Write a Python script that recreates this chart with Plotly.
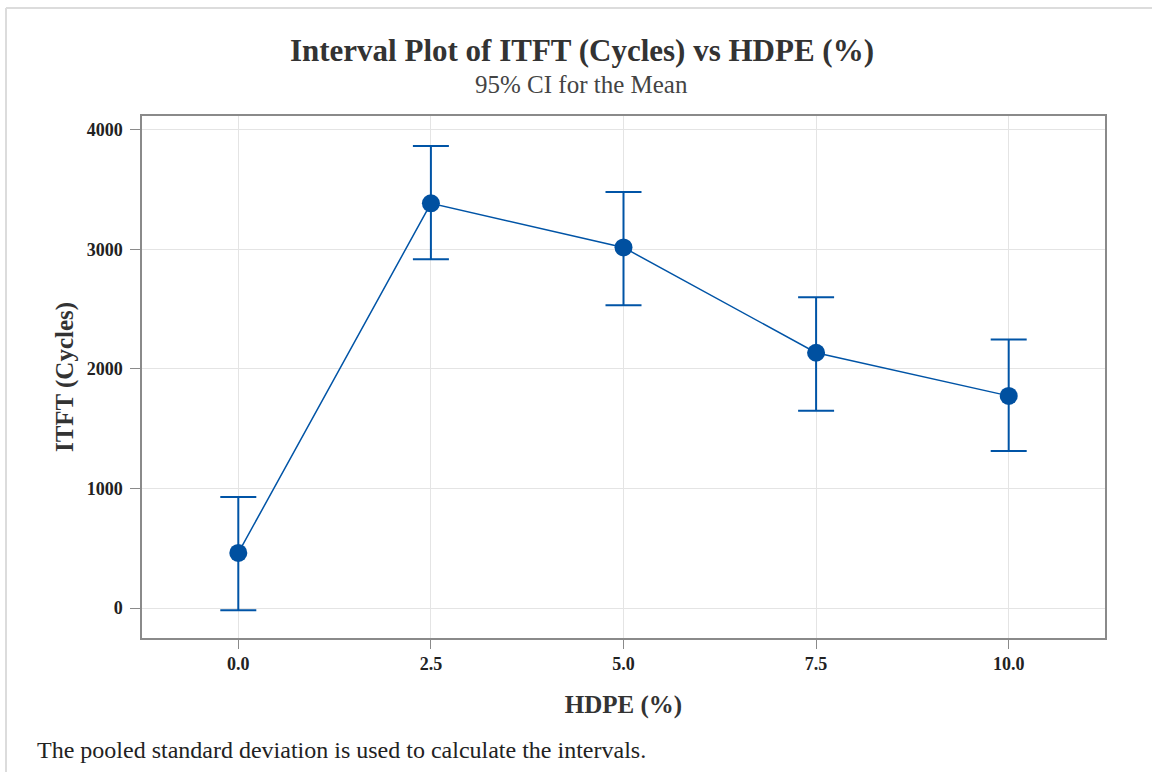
import plotly.graph_objects as go

# HDPE content and ITFT interval data (mean with 95% CI bounds)
hdpe = [0.0, 2.5, 5.0, 7.5, 10.0]
itft_mean = [461, 3386, 3017, 2136, 1775]
ci_lower = [-19, 2919, 2533, 1650, 1314]
ci_upper = [928, 3867, 3481, 2600, 2247]

x_ticks = [0.0, 2.5, 5.0, 7.5, 10.0]
x_tick_text = ["0.0", "2.5", "5.0", "7.5", "10.0"]
y_ticks = [0, 1000, 2000, 3000, 4000]

err_plus = [u - m for u, m in zip(ci_upper, itft_mean)]
err_minus = [m - l for m, l in zip(itft_mean, ci_lower)]

W, H = 1152, 772
ML, MR, MT, MB = 142, 47, 116, 134
PW, PH = W - ML - MR, H - MT - MB


def px_x(px):
    return (px - ML) / PW


def px_y(py):
    return (H - MB - py) / PH


SERIF = "Liberation Serif, Times New Roman, serif"
BLUE = "#0054a6"

fig = go.Figure()
fig.add_trace(go.Scatter(
    x=hdpe, y=itft_mean,
    mode="lines+markers",
    line=dict(color=BLUE, width=1.5),
    marker=dict(color="#0050a0", size=18),
    error_y=dict(type="data", symmetric=False, array=err_plus, arrayminus=err_minus,
                 color=BLUE, thickness=2, width=18),
    showlegend=False,
    hoverinfo="x+y",
))

fig.update_layout(
    width=W, height=H,
    margin=dict(l=ML, r=MR, t=MT, b=MB),
    paper_bgcolor="white", plot_bgcolor="white",
    font=dict(family=SERIF, color="#222222"),
    title=dict(text="<b>Interval Plot of ITFT (Cycles) vs HDPE (%)</b>",
               xref="container", yref="container",
               x=582 / W, y=1 - 50 / H, xanchor="center", yanchor="middle",
               font=dict(family=SERIF, size=31, color="#333333")),
    xaxis=dict(
        range=[-1.25, 11.25], tickvals=x_ticks, ticktext=x_tick_text,
        showgrid=True, gridcolor="#e4e4e4", gridwidth=1, zeroline=False,
        showline=True, linecolor="#8a8a8a", linewidth=1.5, mirror=True,
        ticks="outside", ticklen=9, tickcolor="#8a8a8a",
        tickfont=dict(family=SERIF, size=18, color="#222222", weight="bold"),
        title=dict(text="<b>HDPE (%)</b>", standoff=22,
                   font=dict(family=SERIF, size=25, color="#333333")),
    ),
    yaxis=dict(
        range=[-251, 4117], tickvals=y_ticks,
        showgrid=True, gridcolor="#e4e4e4", gridwidth=1, zeroline=False,
        showline=True, linecolor="#8a8a8a", linewidth=1.5, mirror=True,
        ticks="outside", ticklen=10, tickcolor="#8a8a8a",
        ticklabelstandoff=4,
        tickfont=dict(family=SERIF, size=18, color="#222222", weight="bold"),
        title=dict(text="<b>ITFT (Cycles)</b>", standoff=6,
                   font=dict(family=SERIF, size=25, color="#333333")),
    ),
    annotations=[
        dict(text="95% CI for the Mean", xref="paper", yref="paper",
             x=px_x(581), y=px_y(85), xanchor="center", yanchor="middle",
             showarrow=False, font=dict(family=SERIF, size=25, color="#444444")),
        dict(text="The pooled standard deviation is used to calculate the intervals.",
             xref="paper", yref="paper", x=px_x(35), y=px_y(750),
             xanchor="left", yanchor="middle", showarrow=False,
             font=dict(family=SERIF, size=24, color="#222222")),
    ],
    shapes=[
        dict(type="line", xref="paper", yref="paper",
             x0=px_x(6), x1=px_x(W), y0=px_y(8), y1=px_y(8),
             line=dict(color="#dcdcdc", width=2)),
        dict(type="line", xref="paper", yref="paper",
             x0=px_x(6), x1=px_x(6), y0=px_y(8), y1=px_y(H),
             line=dict(color="#dcdcdc", width=2)),
    ],
)

fig.write_html("out.html")
